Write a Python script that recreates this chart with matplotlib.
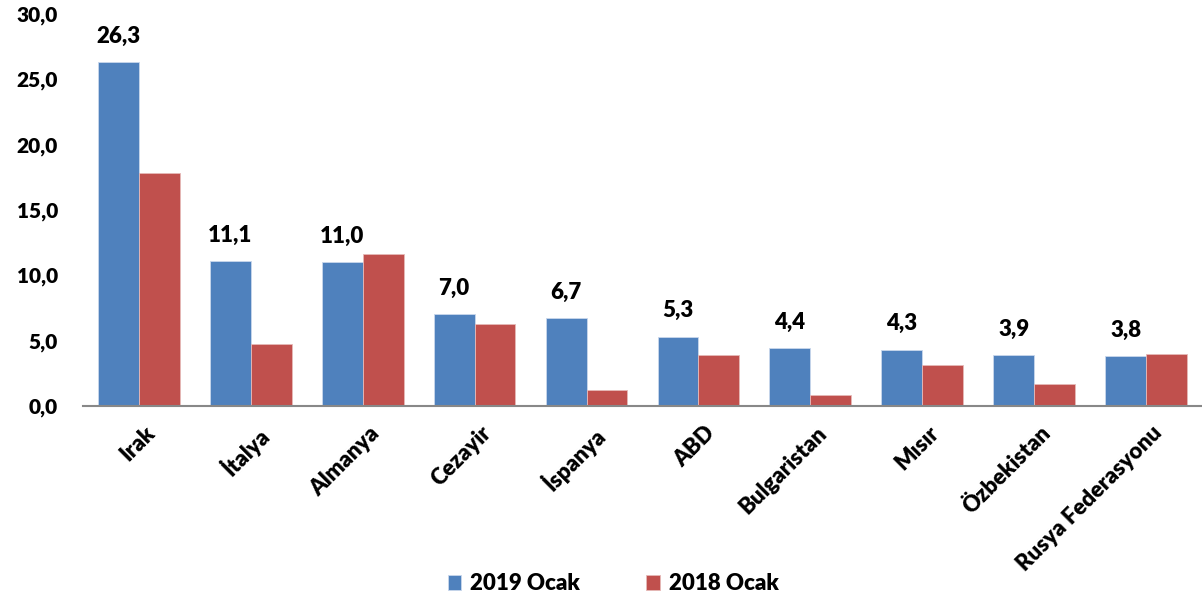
import numpy as np
import matplotlib
matplotlib.use("Agg")
import matplotlib.pyplot as plt

# Data
countries = ["Irak", "İtalya", "Almanya", "Cezayir", "İspanya", "ABD",
             "Bulgaristan", "Mısır", "Özbekistan", "Rusya Federasyonu"]
ocak_2019 = [26.3, 11.1, 11.0, 7.0, 6.7, 5.3, 4.4, 4.3, 3.9, 3.8]
ocak_2018 = [17.8, 4.7, 11.6, 6.3, 1.2, 3.9, 0.8, 3.1, 1.7, 4.0]
y_ticks = [0, 5, 10, 15, 20, 25, 30]

plt.rcParams['font.family'] = ['Lato', 'DejaVu Sans']

fs = 16
fw = "heavy"

fig = plt.figure(figsize=(12.02, 6.03), dpi=100)
ax = fig.add_axes([0.069, 0.327, 0.931, 0.650])

x = np.arange(len(countries))
w = 0.365
b1 = ax.bar(x - w / 2, ocak_2019, w, color="#4F81BD", edgecolor="#C9D7EC",
            linewidth=0.6, label="2019 Ocak")
b2 = ax.bar(x + w / 2, ocak_2018, w, color="#C0504D", edgecolor="#E6B9B8",
            linewidth=0.6, label="2018 Ocak")

# Value labels on the 2019 bars only
for rect, v in zip(b1, ocak_2019):
    ax.annotate("{:.1f}".format(v).replace(".", ","),
                (rect.get_x() + rect.get_width() / 2, rect.get_height()),
                xytext=(0, 11), textcoords="offset points",
                ha="center", va="bottom", fontsize=fs, fontweight=fw)

ax.set_xlim(-0.5, len(countries) - 0.5)
ax.set_ylim(0, 30)
ax.set_yticks(y_ticks)
ax.set_yticklabels(["{:.1f}".format(t).replace(".", ",") for t in y_ticks],
                   fontsize=15, fontweight=fw)
ax.set_xticks(x + 0.05)
ax.set_xticklabels(countries, rotation=45, ha="right", rotation_mode="anchor",
                   fontsize=fs, fontweight=fw)
ax.tick_params(axis="both", length=0)
ax.tick_params(axis="y", pad=18)
ax.tick_params(axis="x", pad=12)

# Remove frame lines except the bottom one
for s in ["top", "right", "left"]:
    ax.spines[s].set_visible(False)
ax.spines["bottom"].set_color("#888888")
ax.spines["bottom"].set_linewidth(1.5)

fig.legend(handles=[b1, b2], loc="center", bbox_to_anchor=(0.51, 0.032),
           ncol=2, frameon=False, prop={"size": fs, "weight": fw},
           handlelength=0.6, handleheight=0.7, columnspacing=3.0,
           handletextpad=0.4)

fig.savefig("out.png", dpi=100)
